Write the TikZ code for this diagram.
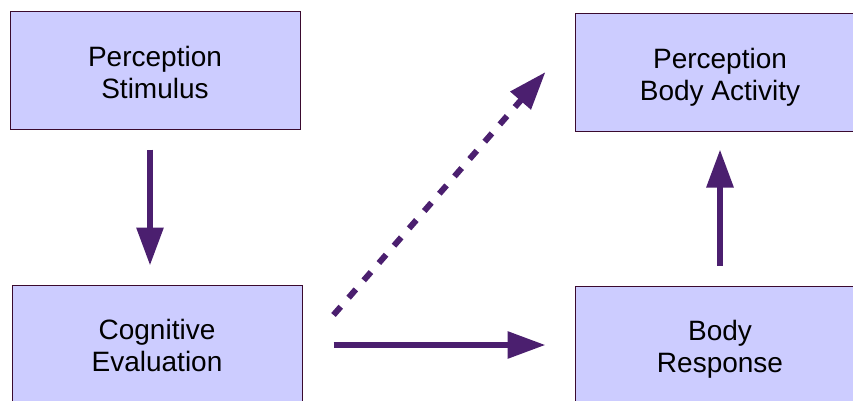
\documentclass[tikz,border=0pt]{standalone}
\usepackage{fontspec}
\setmainfont{Liberation Sans}
\usetikzlibrary{arrows.meta}
\definecolor{boxfill}{HTML}{CCCCFF}
\definecolor{boxline}{HTML}{3A0A2E}
\definecolor{arrowcol}{HTML}{4B1F6F}
\begin{document}
\begin{tikzpicture}[x=1pt,y=1pt,
  stagebox/.style={draw=boxline, line width=1pt, fill=boxfill, minimum width=290pt, minimum height=117pt,
    align=center, inner sep=0pt, text height=56pt, text depth=0pt, font=\fontsize{28}{32}\selectfont},
  arr/.style={draw=arrowcol, line width=6pt, -{Triangle[length=38pt,width=26pt]}},
  dasharr/.style={arr, dash pattern=on 11pt off 12pt}]
\clip (0,0) rectangle (853,-401);
\node[stagebox] (ps) at (155,-70.5) {Perception\\Stimulus};
\node[stagebox] (pb) at (720,-72.5) {Perception\\Body Activity};
\node[stagebox] (ce) at (157,-343.5) {Cognitive\\Evaluation};
\node[stagebox] (br) at (720,-344.5) {Body\\Response};
\draw[arr] ([shift={(-5pt,-20pt)}]ps.south) -- ([shift={(-7pt,19pt)}]ce.north);
\draw[arr] ([shift={(0pt,20pt)}]br.north) -- ([shift={(0pt,-18pt)}]pb.south);
\draw[arr] ([shift={(31pt,-1.5pt)}]ce.east) -- ([shift={(-29pt,-0.5pt)}]br.west);
\draw[dasharr] ([shift={(31pt,28.5pt)}]ce.east) -- ([shift={(-29pt,0.5pt)}]pb.west);
\end{tikzpicture}
\end{document}
